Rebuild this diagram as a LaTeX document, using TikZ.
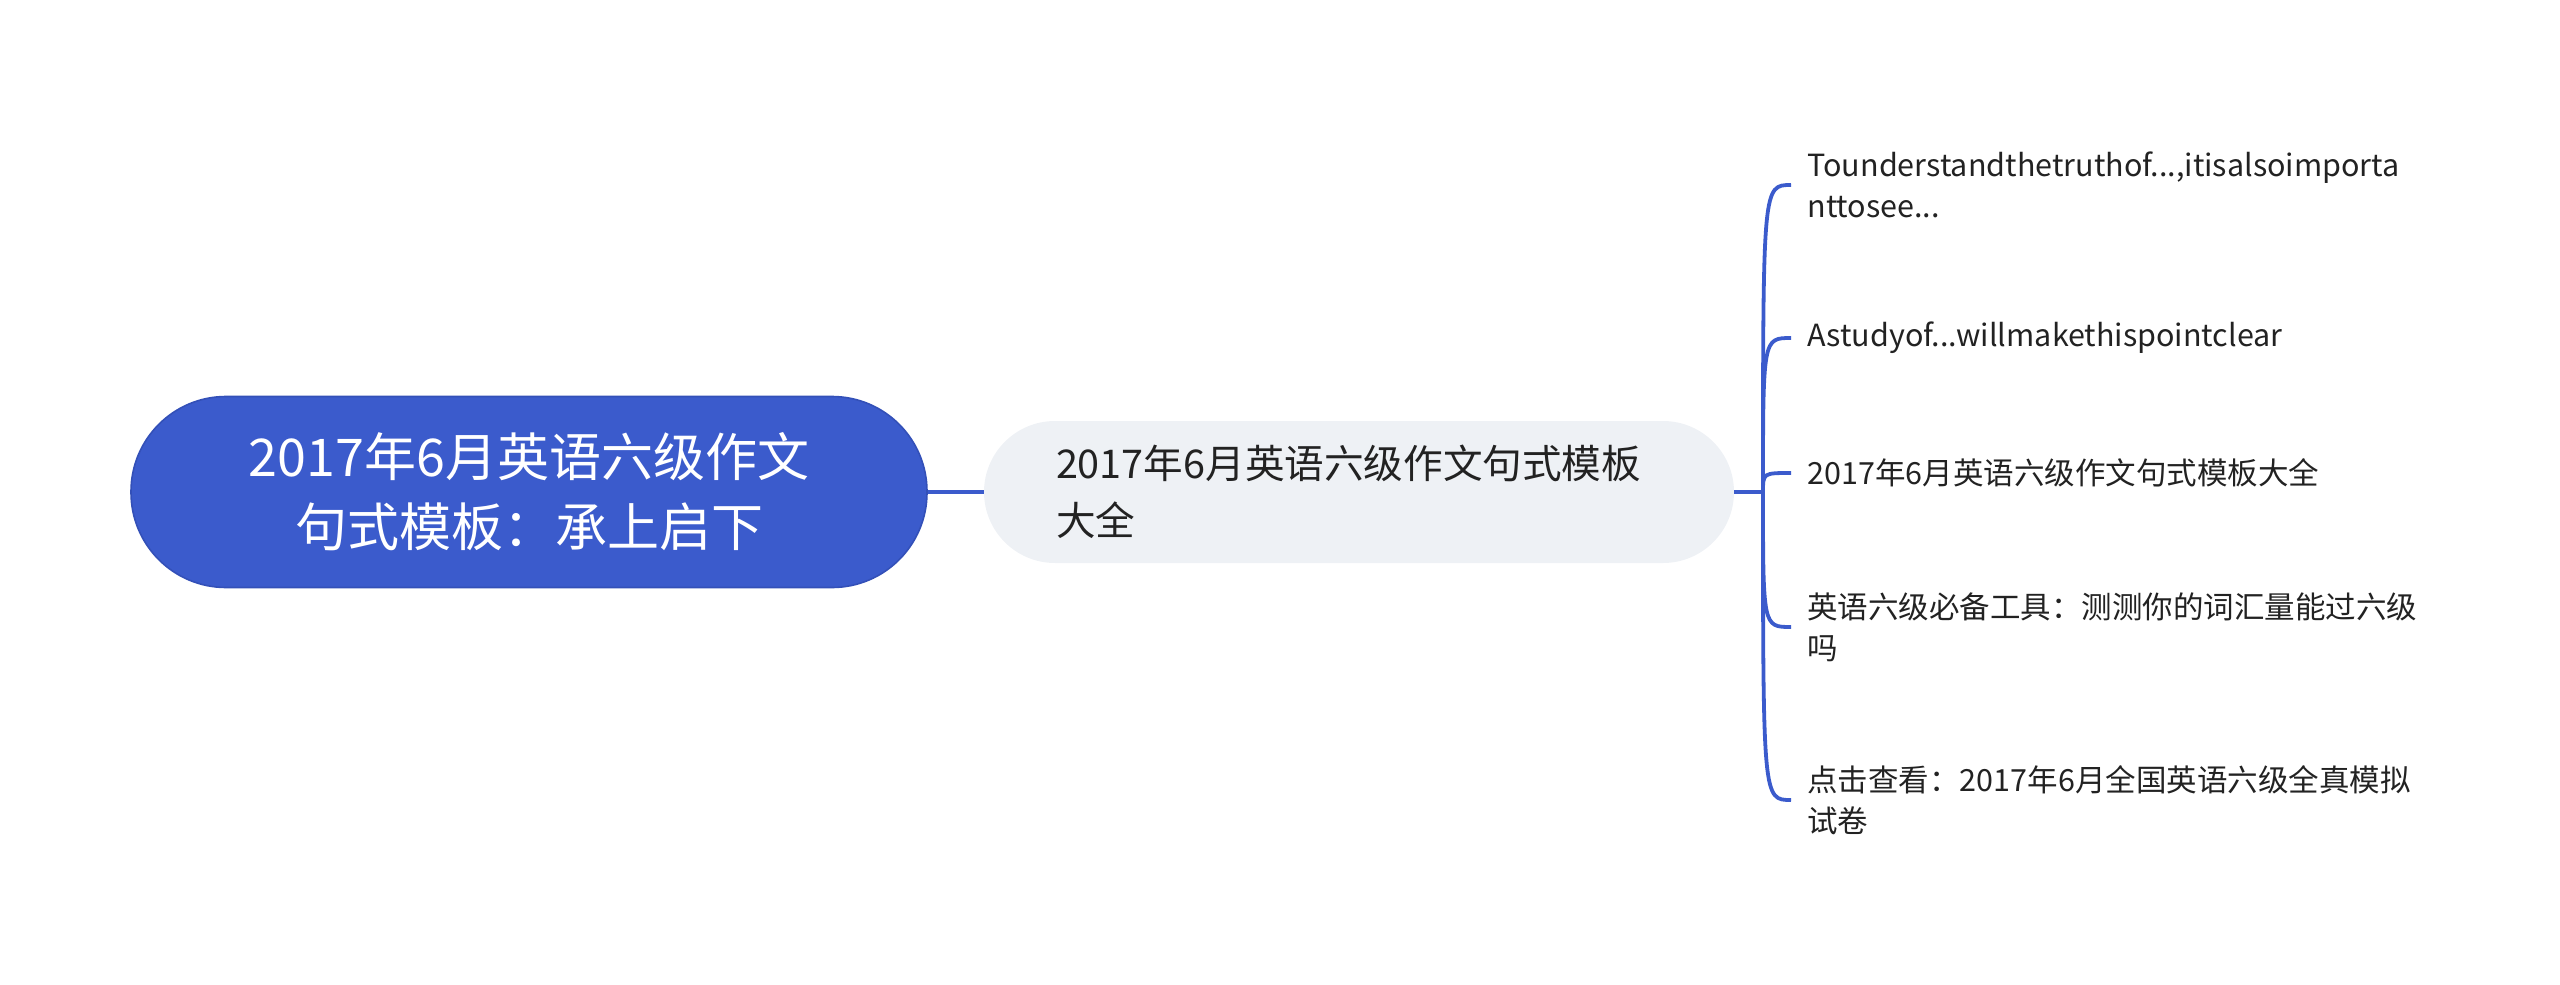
\documentclass[tikz,border=0pt]{standalone}
\usepackage{fontspec}
\setmainfont{Noto Sans CJK SC}
\definecolor{rootblue}{HTML}{3B5BCC}
\definecolor{rootborder}{HTML}{3350B8}
\definecolor{midfill}{HTML}{EEF1F5}
\definecolor{linkblue}{HTML}{3B5BCC}
\definecolor{txt}{HTML}{222222}
\begin{document}
\begin{tikzpicture}[x=0.5pt,y=-0.5pt,
 rootnode/.style={draw=rootborder, line width=0.8pt, fill=rootblue, text=white, rounded corners=47.5pt, minimum width=398pt, minimum height=95.5pt, align=center, font=\fontsize{26}{35}\selectfont, inner sep=0pt},
 midnode/.style={fill=midfill, text=txt, rounded corners=35.5pt, minimum width=375pt, minimum height=71pt, text width=303pt, align=left, font=\fontsize{19.8}{28.5}\selectfont, inner xsep=36pt, inner ysep=0pt},
 leafnode/.style={text=txt, align=left, font=\fontsize{15.25}{20.5}\selectfont, inner xsep=8pt, inner ysep=0pt, anchor=west},
 link/.style={draw=linkblue, line width=2pt},
 branch/.style={draw=linkblue, line width=1.9pt}]
\useasboundingbox (0,0) rectangle (2560,985);
\node[rootnode] (root) at (529,492) {2017年6月英语六级作文\\句式模板：承上启下};
\node[midnode] (mid) at (1359,492) {2017年6月英语六级作文句式模板\\大全};
\coordinate (j) at (1763,492);
\node[leafnode] (l1) at (1791,185) {Tounderstandthetruthof...,itisalsoimporta\\nttosee...};
\node[leafnode] (l2) at (1791,338) {Astudyof...willmakethispointclear};
\node[leafnode] (l3) at (1791,473) {2017年6月英语六级作文句式模板大全};
\node[leafnode] (l4) at (1791,627) {英语六级必备工具：测测你的词汇量能过六级\\吗};
\node[leafnode] (l5) at (1791,800) {点击查看：2017年6月全国英语六级全真模拟\\试卷};
\draw[link] (root.east) -- (mid.west);
\draw[link] (mid.east) -- (j);
\foreach \n in {l1,l2,l3,l4,l5}{
  \draw[branch] (j) .. controls (j |- \n.west) .. (\n.west);
}
\end{tikzpicture}
\end{document}
